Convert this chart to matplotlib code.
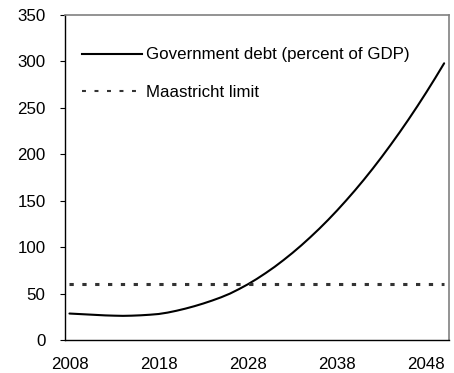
import numpy as np
import matplotlib
matplotlib.use("Agg")
import matplotlib.pyplot as plt
from matplotlib.lines import Line2D

plt.rcParams['font.family'] = ['Liberation Sans', 'DejaVu Sans']

# Data
years = np.arange(2008, 2051)
debt = [28.5, 28.0, 27.5, 27.0, 26.5, 26.2, 26.0, 26.2, 26.6, 27.2,
        28.0, 29.5, 31.5, 33.8, 36.4, 39.3, 42.5, 46.0, 50.0, 54.8,
        60.0, 65.8, 72.1, 78.8, 86.1, 93.8, 102.0, 110.7, 119.8, 129.4,
        139.5, 150.1, 161.1, 172.6, 184.6, 197.1, 210.1, 223.5, 237.4, 251.8,
        266.7, 282.1, 298.0]
maastricht = [60] * len(years)
xtick_years = [2008, 2018, 2028, 2038, 2048]
yticks = [0, 50, 100, 150, 200, 250, 300, 350]

FS = 12.2

fig = plt.figure(figsize=(4.54, 3.73), dpi=100)
ax = fig.add_axes([65 / 454, 33 / 373, 383.6 / 454, 325 / 373])

ax.plot(years, debt, color='black', lw=1.5, solid_capstyle='round')
ax.plot(years, maastricht, color='#333333', lw=2.2, dashes=(1.4, 2.8))

ax.set_xlim(2007.5, 2050.5)
ax.set_ylim(0, 350)
ax.set_xticks(xtick_years)
ax.set_yticks(yticks)
ax.tick_params(axis='x', length=0, pad=12, labelsize=FS)
ax.tick_params(axis='y', direction='out', length=3.5, width=0.8, pad=10.5, labelsize=FS)

for side in ['left', 'bottom']:
    ax.spines[side].set_color('black')
    ax.spines[side].set_linewidth(1.0)
for side in ['top', 'right']:
    ax.spines[side].set_color('#808080')
    ax.spines[side].set_linewidth(1.2)

handles = [Line2D([], [], color='black', lw=1.5),
           Line2D([], [], color='#333333', lw=1.5, dashes=(1.9, 4.1))]
labels = ['Government debt (percent of GDP)', 'Maastricht limit']
leg = ax.legend(handles, labels, loc='upper left', bbox_to_anchor=(0.044, 0.9),
                frameon=False, fontsize=FS, handlelength=3.55, handletextpad=0.25,
                labelspacing=1.3, borderaxespad=0, borderpad=0)

fig.savefig('out.png', dpi=100)
